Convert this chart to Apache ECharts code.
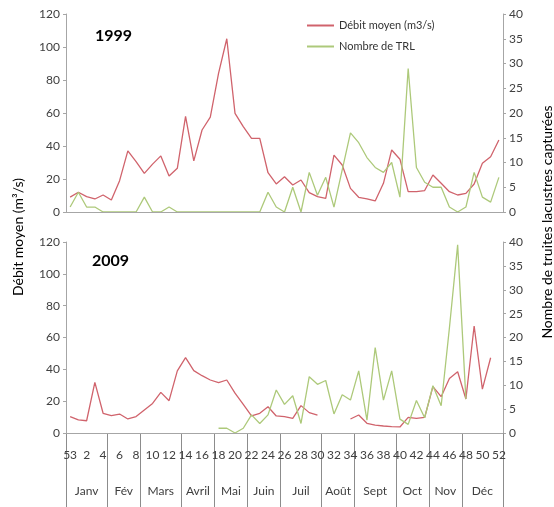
<!DOCTYPE html>
<html>
<head>
<meta charset="utf-8">
<script src="https://cdn.jsdelivr.net/npm/echarts@6/dist/echarts.min.js"></script>
<style>
  html, body { margin: 0; padding: 0; background: #fff; }
  #main { width: 554px; height: 507px; }
</style>
</head>
<body>
<div id="main"></div>
<script>
// week numbers on the x axis (week 53 of the previous year first)
const weeks = ['53', '1', '2', '3', '4', '5', '6', '7', '8', '9', '10', '11', '12', '13', '14', '15', '16', '17',
  '18', '19', '20', '21', '22', '23', '24', '25', '26', '27', '28', '29', '30', '31', '32', '33', '34', '35',
  '36', '37', '38', '39', '40', '41', '42', '43', '44', '45', '46', '47', '48', '49', '50', '51', '52'];
const months = ['Janv', 'Fév', 'Mars', 'Avril', 'Mai', 'Juin', 'Juil', 'Août', 'Sept', 'Oct', 'Nov', 'Déc'];
const monthWeeks = [5, 4, 5, 4, 4, 4, 5, 4, 5, 4, 4, 5];

const debit1999 = [9, 12, 9.3, 7.9, 10.3, 7.3, 19, 37, 30.5, 23.4, 29, 34, 21.8, 26.5, 58, 31, 49.7, 57.5,
  84, 105, 59.8, 51.7, 44.6, 44.6, 23.8, 17, 21.4, 16.4, 19.4, 11.7, 9.3, 8.3, 34.5, 28.5, 14.3, 8.9,
  8, 6.7, 17.4, 37.6, 32, 12.3, 12.3, 13, 22.4, 17.4, 12.3, 10.3, 11.3, 17, 29.5, 33.5, 43.6];
const trl1999 = [1, 4, 1, 1, 0, 0, 0, 0, 0, 3, 0, 0, 1, 0, 0, 0, 0, 0,
  0, 0, 0, 0, 0, 0, 4, 1, 0, 5, 0, 8, 3.4, 7, 1, 8.5, 16, 14,
  11, 9, 8, 10, 3, 29, 9, 6, 5, 5, 1, 0, 1, 8, 3, 2, 7];
const debit2009 = [10.3, 8.2, 7.7, 31.8, 12.4, 10.9, 11.9, 8.8, 10.3, 14.5, 18.6, 25.5, 20.3, 39, 47.3, 39.2, 36, 33.3,
  31.6, 33.3, 25, 18, 10.7, 12.4, 16.5, 10.7, 10.3, 9.2, 17.2, 12.8, 11.3, null, null, null, 8.8, 11.3,
  6.1, 5, 4.4, 4, 3.8, 9.8, 9.2, 9.8, 29.1, 22.8, 34.3, 38.5, 21.4, 67.2, 27.6, 47.3, null];
const trl2009 = [null, null, null, null, null, null, null, null, null, null, null, null, null, null, null, null, null, null,
  1, 1, 0, 1, 3.8, 2, 3.8, 9, 6, 7.8, 2, 11.8, 10.2, 11, 4, 8, 6.9, 13,
  2.7, 17.9, 6.9, 13, 2.9, 1.8, 6.8, 3.2, 9.9, 5.7, 22, 39.4, 7.1, null, null, null, null];

// month row: half-week slots so labels sit in the middle of each month
const monthSlots = [];
const monthEdge = {};
for (let j = 0; j <= 2 * weeks.length; j++) monthSlots.push('');
let pos = 0;
months.forEach(function (name, m) {
  monthEdge[2 * pos] = true;
  monthSlots[2 * pos + monthWeeks[m]] = name;
  pos += monthWeeks[m];
});
monthEdge[2 * pos] = true;

const FONT = 'Lato';
const axisGrey = '#a6a6a6';
const labelGrey = '#404040';
const red = '#d0636c';
const green = '#adc97a';

const chart = echarts.init(document.getElementById('main'));

function valueAxis(gridIndex, max, interval, position) {
  return {
    type: 'value',
    gridIndex: gridIndex,
    position: position,
    min: 0,
    max: max,
    interval: interval,
    splitLine: { show: false },
    axisLine: { show: true, lineStyle: { color: axisGrey } },
    axisTick: { show: true, length: 3, lineStyle: { color: axisGrey } },
    axisLabel: { color: labelGrey, fontFamily: FONT, fontSize: 12, margin: 6 }
  };
}

chart.setOption({
  animation: false,
  textStyle: { fontFamily: FONT },
  grid: [
    { left: 66, right: 51, top: 14, height: 198 },
    { left: 66, right: 51, top: 242, height: 191 }
  ],
  legend: {
    data: ['Débit moyen (m3/s)', 'Nombre de TRL'],
    orient: 'vertical',
    left: 302,
    top: 15,
    icon: 'rect',
    itemWidth: 27,
    itemHeight: 2,
    itemGap: 10,
    textStyle: { fontFamily: FONT, fontSize: 11, color: '#333' }
  },
  graphic: [
    { type: 'text', left: 95, top: 28, style: { text: '1999', font: 'bold 16px ' + FONT, fill: '#000' } },
    { type: 'text', left: 92, top: 253, style: { text: '2009', font: 'bold 16px ' + FONT, fill: '#000' } },
    {
      type: 'text', x: 18, y: 237, rotation: Math.PI / 2,
      style: { text: 'Débit moyen (m³/s)', font: '14px ' + FONT, fill: '#000', align: 'center', verticalAlign: 'middle' }
    },
    {
      type: 'text', x: 547, y: 222, rotation: Math.PI / 2,
      style: { text: 'Nombre de truites lacustres capturées', font: '14px ' + FONT, fill: '#000', align: 'center', verticalAlign: 'middle' }
    }
  ],
  xAxis: [
    {
      type: 'category', gridIndex: 0, data: weeks, boundaryGap: true, z: 5,
      axisLine: { lineStyle: { color: axisGrey } },
      axisTick: { show: false },
      axisLabel: { show: false }
    },
    {
      type: 'category', gridIndex: 1, data: weeks, boundaryGap: true, position: 'bottom', z: 5,
      axisLine: { lineStyle: { color: axisGrey } },
      axisTick: { show: false },
      axisLabel: { interval: 1, color: labelGrey, fontFamily: FONT, fontSize: 12, margin: 16 }
    },
    {
      type: 'category', gridIndex: 1, data: monthSlots, boundaryGap: false, position: 'bottom',
      axisLine: { show: false },
      axisTick: {
        show: true, length: 74,
        interval: function (i) { return !!monthEdge[i]; },
        lineStyle: { color: '#8c8c8c' }
      },
      axisLabel: {
        interval: function (i, v) { return v !== ''; },
        color: labelGrey, fontFamily: FONT, fontSize: 12, margin: 52
      }
    }
  ],
  yAxis: [
    valueAxis(0, 120, 20, 'left'),
    valueAxis(0, 40, 5, 'right'),
    valueAxis(1, 120, 20, 'left'),
    valueAxis(1, 40, 5, 'right')
  ],
  series: [
    {
      name: 'Débit moyen (m3/s)', type: 'line', xAxisIndex: 0, yAxisIndex: 0,
      data: debit1999, showSymbol: false, color: red, lineStyle: { width: 1.3 }
    },
    {
      name: 'Nombre de TRL', type: 'line', xAxisIndex: 0, yAxisIndex: 1,
      data: trl1999, showSymbol: false, color: green, lineStyle: { width: 1.3 }
    },
    {
      name: 'Débit moyen (m3/s)', type: 'line', xAxisIndex: 1, yAxisIndex: 2,
      data: debit2009, showSymbol: false, color: red, lineStyle: { width: 1.3 }
    },
    {
      name: 'Nombre de TRL', type: 'line', xAxisIndex: 1, yAxisIndex: 3,
      data: trl2009, showSymbol: false, color: green, lineStyle: { width: 1.3 }
    }
  ]
});
</script>
</body>
</html>
